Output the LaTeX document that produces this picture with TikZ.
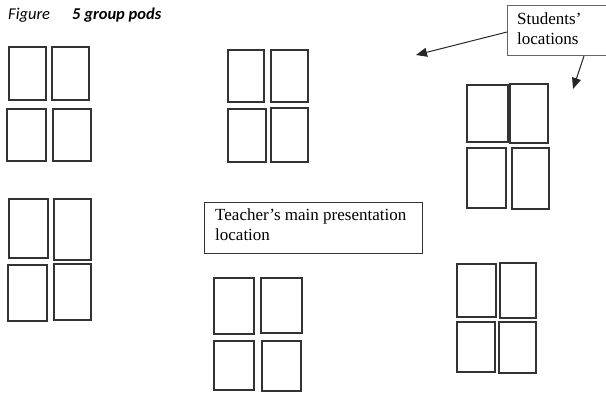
\documentclass[tikz,border=0pt]{standalone}
\usepackage{fontspec}
\setmainfont{Liberation Serif}
\newfontfamily\titlefont{Carlito}
\usetikzlibrary{arrows.meta}
\tikzset{
  desk/.style={draw=black!80, line width=1.1pt},
  label box/.style={draw=black!80, line width=1pt},
  callout/.style={draw=black!85, line width=1pt, -{Triangle[length=11pt,width=9pt]}},
  boxtext/.style={anchor=north west, align=left, inner sep=0pt,
    font=\fontsize{17}{20}\selectfont},
}
\begin{document}
\begin{tikzpicture}[x=1pt,y=-1pt]
\useasboundingbox (0,0) rectangle (606,392);
% title
\node[anchor=base west, inner sep=0pt, font=\titlefont\fontsize{16.5}{18}\selectfont\itshape] (figlbl) at (8,19) {Figure};
\node[anchor=base west, inner sep=0pt, font=\titlefont\fontsize{16.5}{18}\selectfont\itshape\bfseries] (figttl) at (72,19) {5 group pods};
% pod 1
\draw[desk] (9,47) rectangle (46,100);
\draw[desk] (52,47) rectangle (89,100);
\draw[desk] (7,109) rectangle (46,161);
\draw[desk] (53,109) rectangle (91,161);
% pod 2
\draw[desk] (228,50) rectangle (264,102);
\draw[desk] (271,50) rectangle (308,102);
\draw[desk] (228,109) rectangle (266,162);
\draw[desk] (271,108) rectangle (308,162);
% pod 3
\draw[desk] (467,85) rectangle (508,142);
\draw[desk] (510,84) rectangle (548,143);
\draw[desk] (467,148) rectangle (506,208);
\draw[desk] (512,148) rectangle (549,209);
% pod 4
\draw[desk] (9,199) rectangle (48,258);
\draw[desk] (54,199) rectangle (91,260);
\draw[desk] (8,265) rectangle (47,321);
\draw[desk] (54,264) rectangle (91,320);
% pod 5
\draw[desk] (214,278) rectangle (254,334);
\draw[desk] (261,278) rectangle (302,333);
\draw[desk] (214,341) rectangle (254,390);
\draw[desk] (262,341) rectangle (301,391);
% pod 6
\draw[desk] (457,264) rectangle (496,317);
\draw[desk] (500,263) rectangle (536,318);
\draw[desk] (457,322) rectangle (495,372);
\draw[desk] (499,322) rectangle (536,373);
% teacher box
\draw[label box] (204,202) rectangle (422,253);
\node[boxtext] (teacher) at (215,208) {Teacher’s main presentation\\location};
% students box (runs off the right edge)
\draw[label box, draw=black!60] (606,5) -- (507,5) -- (507,55) -- (606,55);
\node[boxtext] (students) at (517,12) {Students’\\locations};
\coordinate (s1) at (507,32);
\coordinate (s2) at (584,56);
\coordinate (t1) at (416,55);
\coordinate (t2) at (573,89);
\draw[callout] (s1) -- (t1);
\draw[callout] (s2) -- (t2);
\end{tikzpicture}
\end{document}
